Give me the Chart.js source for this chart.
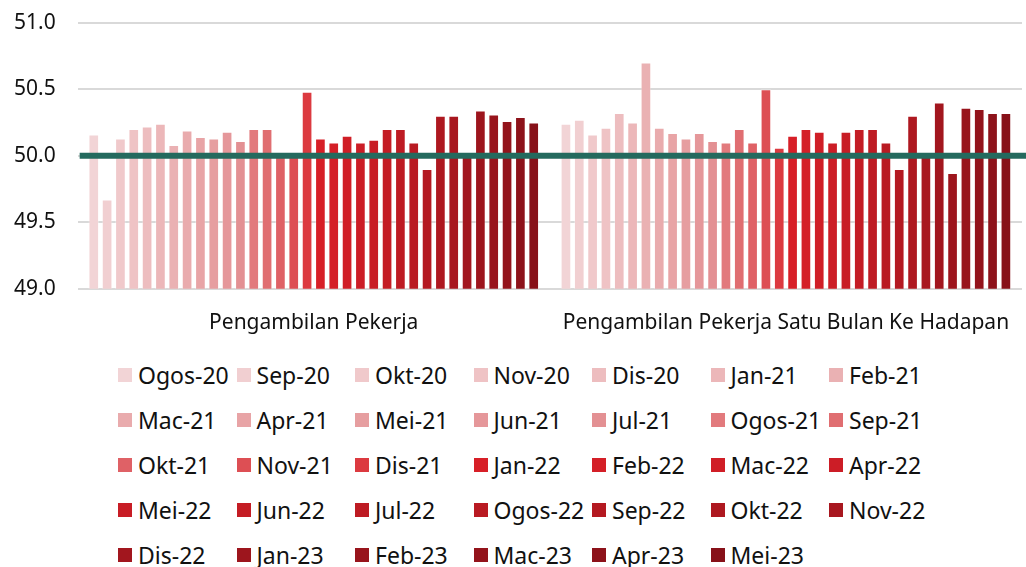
<!DOCTYPE html>
<html lang="ms">
<head>
  <meta charset="UTF-8">
  <title>Pengambilan Pekerja</title>
  <script src="https://cdn.jsdelivr.net/npm/chart.js"></script>
  <style>
    body {
      margin: 0;
      background: #fff;
      font-family: "Noto Sans", sans-serif;
      overflow: hidden;
    }
    #wrap {
      position: relative;
      width: 1026px;
      height: 567px;
      overflow: hidden;
    }
    #chartBox {
      position: absolute;
      left: 0;
      top: -12px;
      width: 1026px;
      height: 362px;
    }
    #legend {
      position: absolute;
      left: 118px;
      top: 352px;
      display: grid;
      grid-template-columns: repeat(7, 118.5px);
      grid-auto-rows: 45.2px;
    }
    .item {
      display: flex;
      align-items: center;
      white-space: nowrap;
      font-size: 23px;
      color: #111;
    }
    .box {
      width: 14px;
      height: 14px;
      margin-right: 6px;
      flex: none;
    }
  </style>
</head>
<body>
  <div id="wrap">
    <div id="chartBox"><canvas id="chart"></canvas></div>
    <div id="legend"></div>
  </div>

  <script>
    // kategori & siri
    const categories = ['Pengambilan Pekerja', 'Pengambilan Pekerja Satu Bulan Ke Hadapan'];
    const months = [
      'Ogos-20', 'Sep-20', 'Okt-20', 'Nov-20', 'Dis-20', 'Jan-21', 'Feb-21',
      'Mac-21', 'Apr-21', 'Mei-21', 'Jun-21', 'Jul-21', 'Ogos-21', 'Sep-21',
      'Okt-21', 'Nov-21', 'Dis-21', 'Jan-22', 'Feb-22', 'Mac-22', 'Apr-22',
      'Mei-22', 'Jun-22', 'Jul-22', 'Ogos-22', 'Sep-22', 'Okt-22', 'Nov-22',
      'Dis-22', 'Jan-23', 'Feb-23', 'Mac-23', 'Apr-23', 'Mei-23'
    ];
    const pekerja = [
      50.16, 49.67, 50.13, 50.20, 50.22, 50.24, 50.08, 50.19, 50.14, 50.13,
      50.18, 50.11, 50.20, 50.20, 50.00, 50.00, 50.48, 50.13, 50.10, 50.15,
      50.10, 50.12, 50.20, 50.20, 50.10, 49.90, 50.30, 50.30, 50.00, 50.34,
      50.31, 50.26, 50.29, 50.25
    ];
    const hadapan = [
      50.24, 50.27, 50.16, 50.21, 50.32, 50.25, 50.70, 50.21, 50.17, 50.13,
      50.17, 50.11, 50.10, 50.20, 50.10, 50.50, 50.06, 50.15, 50.20, 50.18,
      50.10, 50.18, 50.20, 50.20, 50.10, 49.90, 50.30, 50.00, 50.40, 49.87,
      50.36, 50.35, 50.32, 50.32
    ];
    const yTicks = [49.0, 49.5, 50.0, 50.5, 51.0];
    const threshold = 50.0;

    const colors = [
      '#f2d4d6', '#f1cfd1', '#f0c9cb', '#efc3c5', '#edbdbf', '#ecb7b9', '#eab1b3',
      '#e9abad', '#e8a4a6', '#e69ea0', '#e5979a', '#e39093', '#e27a7d', '#e06e71',
      '#df6166', '#dd4f54', '#dc3a40', '#d71f27', '#d41f27', '#d01e26', '#cc1d26',
      '#c81d25', '#c41c24', '#be1b23', '#b91a22', '#b41921', '#ae1820', '#a8171f',
      '#a2161e', '#9d151d', '#98141c', '#93131b', '#8d121a', '#871119'
    ];

    const datasets = months.map((m, i) => ({
      label: m,
      data: [pekerja[i], hadapan[i]],
      backgroundColor: colors[i],
      borderColor: 'rgba(255,255,255,0.35)',
      borderWidth: 1,
      categoryPercentage: 0.96,
      barPercentage: 0.8
    }));

    // garis 50.0
    const thresholdLine = {
      id: 'thresholdLine',
      afterDatasetsDraw(chart) {
        const y = chart.scales.y.getPixelForValue(threshold);
        const c = chart.ctx;
        c.save();
        c.strokeStyle = '#246a5e';
        c.lineWidth = 6;
        c.beginPath();
        c.moveTo(chart.chartArea.left + 2, y);
        c.lineTo(chart.width, y);
        c.stroke();
        c.restore();
      }
    };

    const chart = new Chart(document.getElementById('chart'), {
      type: 'bar',
      data: { labels: categories, datasets: datasets },
      options: {
        responsive: true,
        maintainAspectRatio: false,
        animation: false,
        layout: { padding: { top: 0, right: 4, left: -8, bottom: 0 } },
        plugins: {
          legend: { display: false },
          tooltip: { enabled: false }
        },
        scales: {
          x: {
            grid: { display: false },
            border: { display: false },
            ticks: {
              color: '#111',
              font: { family: '"Noto Sans", sans-serif', size: 21 },
              padding: 14,
              maxRotation: 0,
              minRotation: 0,
              autoSkip: false
            }
          },
          y: {
            min: 49,
            max: 51,
            afterBuildTicks(scale) {
              scale.ticks = yTicks.map(v => ({ value: v }));
            },
            grid: { color: '#d9d9d9', lineWidth: 2, drawTicks: false },
            border: { display: false },
            ticks: {
              color: '#111',
              font: { family: '"Noto Sans", sans-serif', size: 21 },
              padding: 22,
              callback: v => v.toFixed(1)
            }
          }
        }
      },
      plugins: [thresholdLine]
    });

    // legenda
    const legend = document.getElementById('legend');
    months.forEach((m, i) => {
      const item = document.createElement('div');
      item.className = 'item';
      const box = document.createElement('span');
      box.className = 'box';
      box.style.background = colors[i];
      const txt = document.createElement('span');
      txt.textContent = m;
      item.appendChild(box);
      item.appendChild(txt);
      legend.appendChild(item);
    });
  </script>
</body>
</html>
